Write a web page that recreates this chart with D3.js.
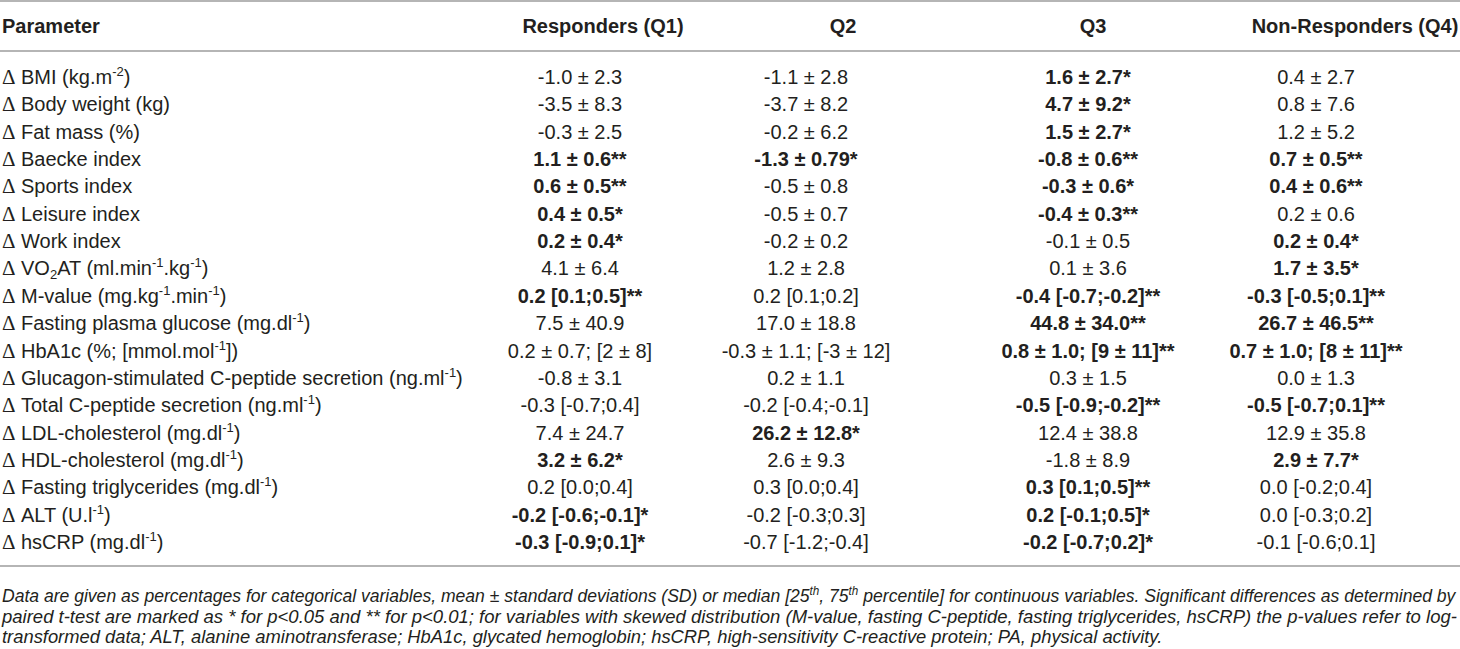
<!DOCTYPE html>
<html><head><meta charset="utf-8">
<script src="https://cdn.jsdelivr.net/npm/d3@7"></script>
<style>
html,body{margin:0;padding:0;background:#fff;}
svg{display:block;}
</style></head>
<body>
<svg id="chart" width="1460" height="649"></svg>
<script>
// ---- data ----
const headers = ["Parameter", "Responders (Q1)", "Q2", "Q3", "Non-Responders (Q4)"];
const parameters = [
  "BMI (kg.m^{-2})",
  "Body weight (kg)",
  "Fat mass (%)",
  "Baecke index",
  "Sports index",
  "Leisure index",
  "Work index",
  "VO_{2}AT (ml.min^{-1}.kg^{-1})",
  "M-value (mg.kg^{-1}.min^{-1})",
  "Fasting plasma glucose (mg.dl^{-1})",
  "HbA1c (%; [mmol.mol^{-1}])",
  "Glucagon-stimulated C-peptide secretion (ng.ml^{-1})",
  "Total C-peptide secretion (ng.ml^{-1})",
  "LDL-cholesterol (mg.dl^{-1})",
  "HDL-cholesterol (mg.dl^{-1})",
  "Fasting triglycerides (mg.dl^{-1})",
  "ALT (U.l^{-1})",
  "hsCRP (mg.dl^{-1})"
];
const q1 = ["-1.0 ± 2.3","-3.5 ± 8.3","-0.3 ± 2.5","1.1 ± 0.6**","0.6 ± 0.5**","0.4 ± 0.5*","0.2 ± 0.4*","4.1 ± 6.4","0.2 [0.1;0.5]**","7.5 ± 40.9","0.2 ± 0.7; [2 ± 8]","-0.8 ± 3.1","-0.3 [-0.7;0.4]","7.4 ± 24.7","3.2 ± 6.2*","0.2 [0.0;0.4]","-0.2 [-0.6;-0.1]*","-0.3 [-0.9;0.1]*"];
const q2 = ["-1.1 ± 2.8","-3.7 ± 8.2","-0.2 ± 6.2","-1.3 ± 0.79*","-0.5 ± 0.8","-0.5 ± 0.7","-0.2 ± 0.2","1.2 ± 2.8","0.2 [0.1;0.2]","17.0 ± 18.8","-0.3 ± 1.1; [-3 ± 12]","0.2 ± 1.1","-0.2 [-0.4;-0.1]","26.2 ± 12.8*","2.6 ± 9.3","0.3 [0.0;0.4]","-0.2 [-0.3;0.3]","-0.7 [-1.2;-0.4]"];
const q3 = ["1.6 ± 2.7*","4.7 ± 9.2*","1.5 ± 2.7*","-0.8 ± 0.6**","-0.3 ± 0.6*","-0.4 ± 0.3**","-0.1 ± 0.5","0.1 ± 3.6","-0.4 [-0.7;-0.2]**","44.8 ± 34.0**","0.8 ± 1.0; [9 ± 11]**","0.3 ± 1.5","-0.5 [-0.9;-0.2]**","12.4 ± 38.8","-1.8 ± 8.9","0.3 [0.1;0.5]**","0.2 [-0.1;0.5]*","-0.2 [-0.7;0.2]*"];
const q4 = ["0.4 ± 2.7","0.8 ± 7.6","1.2 ± 5.2","0.7 ± 0.5**","0.4 ± 0.6**","0.2 ± 0.6","0.2 ± 0.4*","1.7 ± 3.5*","-0.3 [-0.5;0.1]**","26.7 ± 46.5**","0.7 ± 1.0; [8 ± 11]**","0.0 ± 1.3","-0.5 [-0.7;0.1]**","12.9 ± 35.8","2.9 ± 7.7*","0.0 [-0.2;0.4]","0.0 [-0.3;0.2]","-0.1 [-0.6;0.1]"];
const footnoteLines = [
  "Data are given as percentages for categorical variables, mean ± standard deviations (SD) or median [25^{th}, 75^{th} percentile] for continuous variables. Significant differences as determined by",
  "paired t-test are marked as * for p<0.05 and ** for p<0.01; for variables with skewed distribution (M-value, fasting C-peptide, fasting triglycerides, hsCRP) the p-values refer to log-",
  "transformed data; ALT, alanine aminotransferase; HbA1c, glycated hemoglobin; hsCRP, high-sensitivity C-reactive protein; PA, physical activity."
];

// ---- layout ----
const W = 1460;
const svg = d3.select("#chart");
const font = "'Liberation Sans', Arial, Helvetica, sans-serif";
const ink = "#231f20";
const ruleColor = "#9d9d9d";

const valueCols = [q1, q2, q3, q4];
const rowY = d3.scalePoint().domain(d3.range(parameters.length)).range([77, 542]);
const headerX = d3.scaleOrdinal().domain(headers).range([2, 603, 843, 1093, 1355]);
const valueX = d3.scaleOrdinal().domain(d3.range(4)).range([580, 806, 1088, 1316]);

// rich text helper: ^{..} superscript, _{..} subscript
function rich(textSel, str, size) {
  const parts = str.split(/(\^\{[^}]*\}|_\{[^}]*\})/).filter(s => s.length);
  let shift = 0;
  parts.forEach(p => {
    let target = 0, txt = p, fs = size;
    if (p.startsWith("^{")) { target = -Math.round(size * 0.38); txt = p.slice(2, -1); fs = Math.round(size * 0.66); }
    else if (p.startsWith("_{")) { target = Math.round(size * 0.22); txt = p.slice(2, -1); fs = Math.round(size * 0.66); }
    textSel.append("tspan").attr("dy", target - shift).attr("font-size", fs).text(txt);
    shift = target;
  });
}

// rules
const rules = [1, 51, 566];
svg.selectAll("line.rule").data(rules).join("line")
  .attr("class", "rule")
  .attr("x1", 0).attr("x2", W)
  .attr("y1", d => d).attr("y2", d => d)
  .attr("stroke", ruleColor).attr("stroke-width", 1.3);

// headers
svg.selectAll("text.hdr").data(headers).join("text")
  .attr("class", "hdr")
  .attr("x", d => headerX(d))
  .attr("y", 33)
  .attr("text-anchor", (d, i) => i === 0 ? "start" : "middle")
  .attr("font-family", font).attr("font-size", 20).attr("font-weight", "bold")
  .attr("fill", ink)
  .text(d => d);

// parameter labels
const lab = svg.selectAll("g.lab").data(parameters).join("g").attr("class", "lab")
  .attr("transform", (d, i) => `translate(2,${rowY(i) + 7})`);
lab.append("text")
  .attr("font-family", "'Liberation Serif', 'Times New Roman', serif")
  .attr("font-size", 21).attr("fill", ink)
  .text("Δ");
lab.append("text")
  .attr("x", 19)
  .attr("font-family", font).attr("font-size", 20).attr("fill", ink)
  .each(function(d) { rich(d3.select(this), d, 20); });

// value cells
valueCols.forEach((col, c) => {
  svg.selectAll(`text.v${c}`).data(col).join("text")
    .attr("class", `v${c}`)
    .attr("x", valueX(c))
    .attr("y", (d, i) => rowY(i) + 7)
    .attr("text-anchor", "middle")
    .attr("font-family", font).attr("font-size", 20)
    .attr("font-weight", d => d.includes("*") ? "bold" : "normal")
    .attr("fill", ink)
    .text(d => d);
});

// footnote: rendered naturally, then condensed horizontally to its line width
const fnY = d3.scalePoint().domain(d3.range(footnoteLines.length)).range([602, 643]);
const fnLen = [1455, 1455, 1161];
svg.selectAll("text.fn").data(footnoteLines).join("text")
  .attr("class", "fn")
  .attr("x", 0).attr("y", 0)
  .attr("font-family", font).attr("font-size", 18).attr("font-style", "italic")
  .attr("fill", ink)
  .each(function(d) { rich(d3.select(this), d, 18); })
  .attr("transform", function(d, i) {
    const len = this.getComputedTextLength();
    const k = len > 0 ? fnLen[i] / len : 1;
    return `translate(2,${fnY(i)}) scale(${k},1)`;
  });
</script>
</body></html>
